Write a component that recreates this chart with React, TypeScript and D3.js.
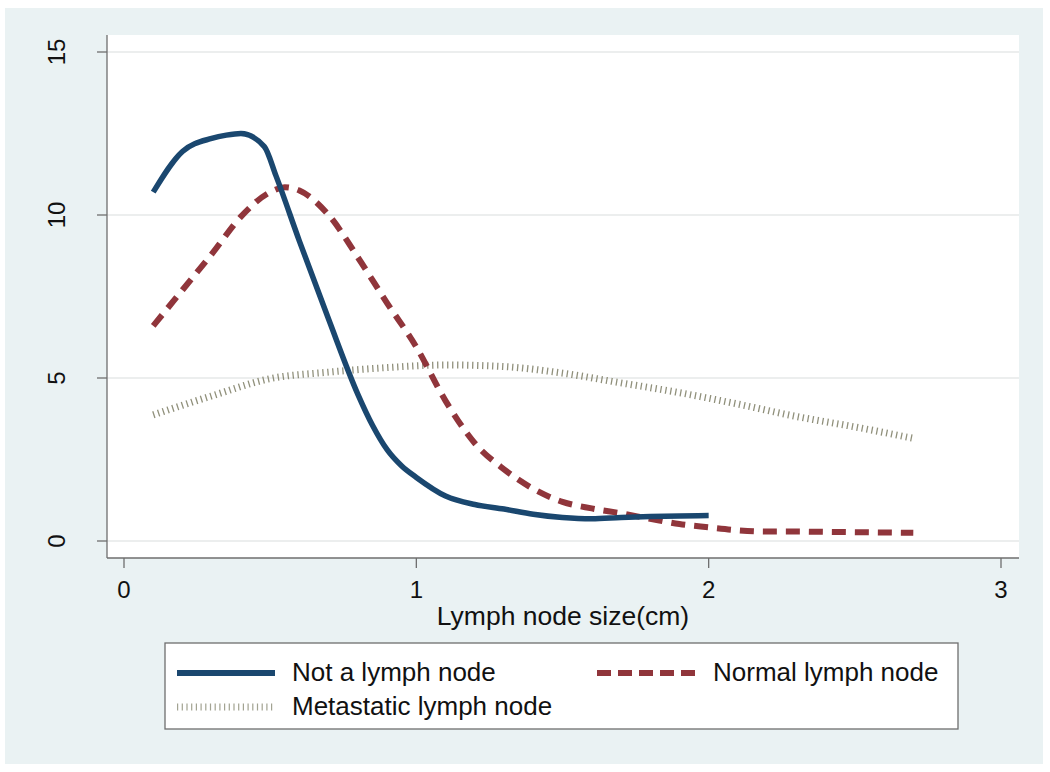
import React from "react";
import * as d3 from "d3";

// kernel density readings, Lymph node size (cm) vs density
const notLymphSize = [0.1, 0.2, 0.3, 0.35, 0.4, 0.48, 0.52, 0.6, 0.7, 0.8, 0.85, 0.9, 0.95, 1.0, 1.1, 1.2, 1.3, 1.4, 1.5, 1.6, 1.7, 1.8, 1.9, 2.0];
const notLymphDens = [10.7, 11.95, 12.35, 12.45, 12.5, 12.1, 11.2, 9.2, 6.8, 4.5, 3.55, 2.8, 2.3, 1.95, 1.38, 1.12, 0.98, 0.82, 0.72, 0.68, 0.72, 0.75, 0.77, 0.78];

const normalSize = [0.1, 0.2, 0.3, 0.4, 0.5, 0.55, 0.6, 0.7, 0.8, 0.9, 1.0, 1.1, 1.2, 1.3, 1.4, 1.5, 1.6, 1.7, 1.8, 1.9, 2.0, 2.1, 2.2, 2.3, 2.4, 2.5, 2.6, 2.7];
const normalDens = [6.6, 7.7, 8.8, 9.95, 10.7, 10.85, 10.75, 10.0, 8.7, 7.3, 5.95, 4.3, 3.0, 2.2, 1.6, 1.2, 1.0, 0.85, 0.68, 0.52, 0.42, 0.33, 0.29, 0.29, 0.28, 0.27, 0.26, 0.25];

const metaSize = [0.1, 0.3, 0.5, 0.7, 0.9, 1.1, 1.3, 1.5, 1.7, 1.9, 2.1, 2.3, 2.5, 2.7];
const metaDens = [3.87, 4.45, 4.98, 5.18, 5.32, 5.4, 5.35, 5.15, 4.85, 4.55, 4.2, 3.82, 3.5, 3.15];

const xTicks = [0, 1, 2, 3];
const yTicks = [0, 5, 10, 15];
const legendLabels = ["Not a lymph node", "Normal lymph node", "Metastatic lymph node"];

const W = 1050, H = 772;
const plot = { left: 107, right: 1019, top: 35, bottom: 558 };
const font = "'Liberation Sans', Arial, sans-serif";

const colors = { blue: "#1a476f", red: "#90353b", meta: "#7c7d64" };

export default function App() {
  const x = d3.scaleLinear().domain([0, 3]).range([124, 1001]);
  const y = d3.scaleLinear().domain([0, 15]).range([541, 52]);

  const smooth = d3.line<[number, number]>().x(d => x(d[0])).y(d => y(d[1])).curve(d3.curveMonotoneX);

  const pts = (xs: number[], ys: number[]) => xs.map((v, i) => [v, ys[i]] as [number, number]);

  return (
    <svg width={W} height={H} style={{ position: "absolute", left: 0, top: 0 }} fontFamily={font}>
      <rect x={0} y={0} width={W} height={H} fill="#ffffff" />
      {/* graph region */}
      <rect x={5} y={8} width={1038} height={756} fill="#eaf2f3" />
      {/* plot region */}
      <rect x={plot.left} y={plot.top} width={plot.right - plot.left} height={plot.bottom - plot.top} fill="#ffffff" />

      {/* grid */}
      {yTicks.map(t => (
        <line key={"g" + t} x1={plot.left} x2={plot.right} y1={y(t)} y2={y(t)} stroke="#e6e8e8" strokeWidth={1.5} />
      ))}

      {/* axes */}
      <line x1={plot.left} x2={plot.left} y1={plot.top} y2={plot.bottom} stroke="#6e6e6e" strokeWidth={1.3} />
      <line x1={plot.left} x2={plot.right} y1={plot.bottom} y2={plot.bottom} stroke="#6e6e6e" strokeWidth={1.3} />
      {yTicks.map(t => (
        <g key={"y" + t}>
          <line x1={97} x2={plot.left} y1={y(t)} y2={y(t)} stroke="#6e6e6e" strokeWidth={1.3} />
          <text transform={`translate(65,${y(t)}) rotate(-90)`} textAnchor="middle" fontSize={24} fill="#111">{t}</text>
        </g>
      ))}
      {xTicks.map(t => (
        <g key={"x" + t}>
          <line x1={x(t)} x2={x(t)} y1={plot.bottom} y2={568} stroke="#6e6e6e" strokeWidth={1.3} />
          <text x={x(t)} y={598} textAnchor="middle" fontSize={24} fill="#111">{t}</text>
        </g>
      ))}
      <text x={(plot.left + plot.right) / 2} y={625} textAnchor="middle" fontSize={26.5} fill="#111">Lymph node size(cm)</text>

      {/* series */}
      <path d={smooth(pts(metaSize, metaDens)) || ""} fill="none" stroke={colors.meta} strokeWidth={7} strokeDasharray="1.3 3.7" opacity={0.85} />
      <path d={smooth(pts(normalSize, normalDens)) || ""} fill="none" stroke={colors.red} strokeWidth={6} strokeDasharray="14 9" />
      <path d={smooth(pts(notLymphSize, notLymphDens)) || ""} fill="none" stroke={colors.blue} strokeWidth={5.5} strokeLinejoin="round" />

      {/* legend */}
      <rect x={165} y={643} width={793} height={86} fill="#ffffff" stroke="#6e6e6e" strokeWidth={1.3} />
      <line x1={177} x2={275} y1={673} y2={673} stroke={colors.blue} strokeWidth={6} />
      <text x={292} y={681} fontSize={26} fill="#111">{legendLabels[0]}</text>
      <line x1={597} x2={695} y1={673} y2={673} stroke={colors.red} strokeWidth={6} strokeDasharray="14 7" />
      <text x={713} y={681} fontSize={26} fill="#111">{legendLabels[1]}</text>
      <line x1={177} x2={275} y1={707} y2={707} stroke={colors.meta} strokeWidth={7} strokeDasharray="1.2 3.5" opacity={0.7} />
      <text x={292} y={715} fontSize={26} fill="#111">{legendLabels[2]}</text>
    </svg>
  );
}
